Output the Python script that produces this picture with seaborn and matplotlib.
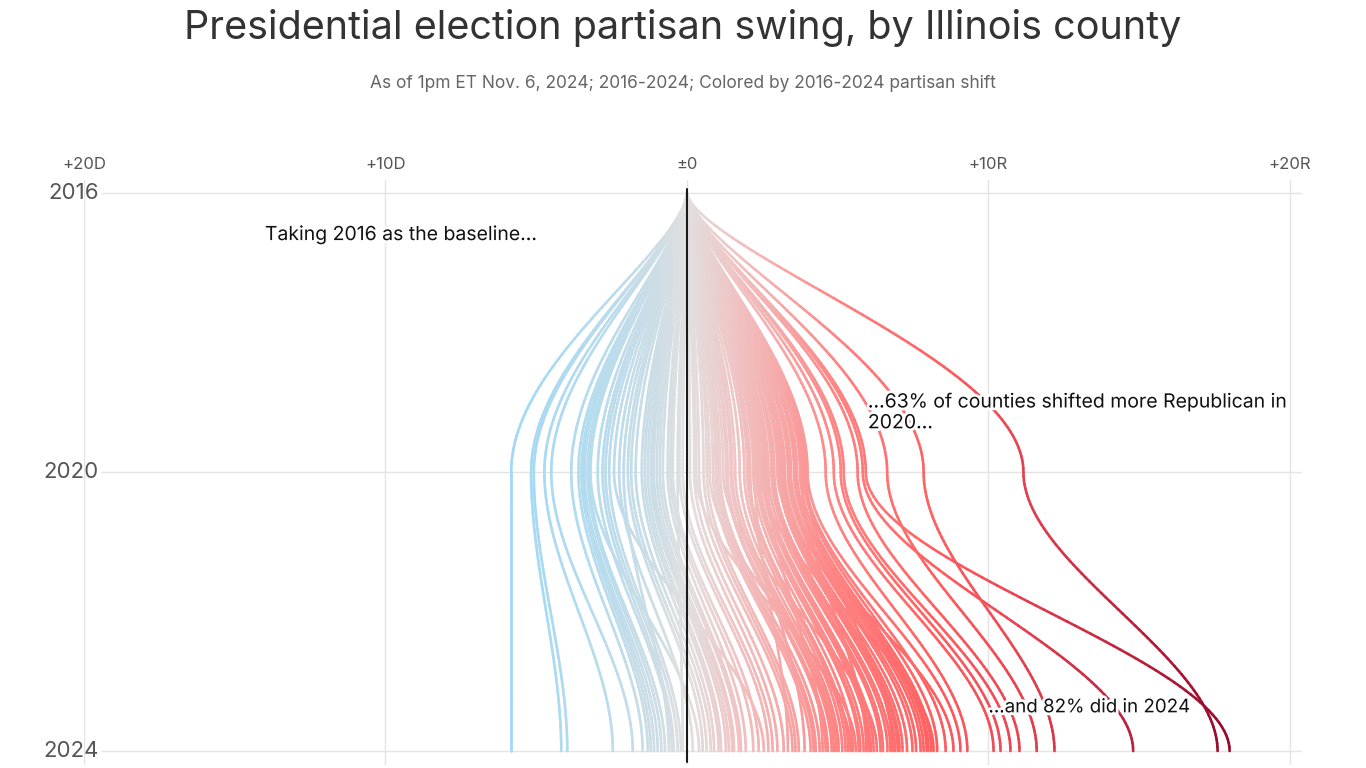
import numpy as np
import matplotlib
matplotlib.use("Agg")
import matplotlib.pyplot as plt
import matplotlib.patheffects as pe
from matplotlib.collections import LineCollection
from matplotlib.colors import Normalize
import seaborn as sns

# Data: partisan swing vs 2016 baseline, one entry per county
# (negative = shifted toward D, positive = shifted toward R)
years = [2016, 2020, 2024]
tick_values = [-20, -10, 0, 10, 20]
tick_labels = ["+20D", "+10D", "±0", "+10R", "+20R"]

swing_2020 = [
    -5.83, -5.17, -5.08, -4.73, -4.5, -3.84, -3.6, -3.5, -3.45, -3.4,
    -3.3, -3.25, -3.2, -2.96, -2.8, -2.7, -2.58, -2.42, -2.25, -2.1,
    -1.96, -1.85, -1.7, -1.5, -1.4, -1.3, -1.2, -1.15, -1.1, -1.0,
    -0.9, -0.8, -0.64, -0.55, -0.47, -0.31, -0.25, -0.14,
    0.1, 0.24, 0.3, 0.4, 0.55, 0.66, 0.75, 0.86, 0.95, 1.02,
    1.1, 1.2, 1.3, 1.35, 1.45, 1.5, 1.6, 1.75, 1.9, 2.0,
    2.05, 2.1, 2.2, 2.25, 2.3, 2.35, 2.4, 2.45, 2.5, 2.55,
    2.6, 2.65, 2.7, 2.8, 2.85, 2.9, 3.0, 3.05, 3.1, 3.15,
    3.2, 3.25, 3.35, 3.4, 3.45, 3.55, 3.6, 3.65, 3.75, 3.8,
    3.85, 3.9, 3.95, 4.0, 4.6, 4.87, 5.1, 5.2, 5.66, 5.83,
    5.93, 6.64, 7.85, 11.16,
]
swing_2024 = [
    -5.83, -4.17, -3.97, -2.46, -1.80, -1.47, -1.30, -1.2, -1.09, -0.97,
    -0.85, -0.73, 0.40, -0.5, -0.44, -0.31, -0.2, 2.55, 0.19, -0.60,
    0.52, 0.65, 0.79, 0.9, 1.05, 1.13, 1.29, 1.39, 1.5, 1.56,
    1.72, 1.79, 1.95, 2.2, 2.38, -0.14, 2.7, 2.84,
    3.0, 3.21, 5.6, 3.5, 3.6, 3.71, 5.43, 4.1, 4.2, 4.27,
    4.4, 6.3, 4.6, 4.67, 4.8, 4.87, 4.95, 5.03, 5.15, 5.26,
    5.35, 3.9, 5.5, 3.35, 5.7, 5.75, 5.86, 8.18, 6.03, 6.1,
    6.19, 4.5, 6.42, 6.5, 6.65, 6.75, 8.84, 6.9, 6.99, 7.05,
    7.15, 7.3, 7.48, 7.6, 7.75, 7.85, 7.95, 8.01, 8.1, 5.95,
    8.3, 8.58, 6.82, 9.07, 9.3, 10.17, 10.4, 10.73, 11.03, 14.8,
    18.0, 11.6, 12.19, 17.6,
]

# colour scale for the swing, from +6D to +18R
scale_stops = [-6, -3, -1, 0, 1.5, 3, 5, 8, 10, 12, 15, 18]
scale_colors = ["#9fd8f6", "#b7dcee", "#cddde5", "#e2e0e0", "#efc6c6", "#f6abab",
                "#ff8282", "#ff6262", "#f25058", "#da384b", "#b9203b", "#950a2c"]


def ease(t, k):
    t = t ** k
    return t * t * (3 - 2 * t)


# fine-grained colormap built from the stops
pos = (np.array(scale_stops) - scale_stops[0]) / (scale_stops[-1] - scale_stops[0])
grid = np.linspace(0, 1, 241)
base = np.array(sns.color_palette(scale_colors))
rgb = np.stack([np.interp(grid, pos, base[:, c]) for c in range(3)], axis=1)
cmap = sns.blend_palette([tuple(c) for c in rgb], n_colors=241, as_cmap=True)
norm = Normalize(vmin=scale_stops[0], vmax=scale_stops[-1])

# smooth county paths, coloured along their length by the running swing
t = np.linspace(0, 1, 70)
segs, seg_vals = [], []
for a, b in zip(swing_2020, swing_2024):
    x = np.concatenate([a * ease(t, 0.8), (a + (b - a) * ease(t, 1.0))[1:]])
    y = np.concatenate([years[0] + t * (years[1] - years[0]),
                        (years[1] + t * (years[2] - years[1]))[1:]])
    pts = np.column_stack([x, y])
    segs.extend(np.stack([pts[:-1], pts[1:]], axis=1))
    seg_vals.extend((x[:-1] + x[1:]) / 2)

sns.set_theme(style="white")
plt.rcParams["font.family"] = ["Inter", "DejaVu Sans"]

fig = plt.figure(figsize=(13.66, 7.68), dpi=100)
ax = fig.add_axes([84 / 1366, 3 / 768, 1218 / 1366, 585 / 768])

# grid
for v in tick_values:
    ax.axvline(v, color="#e4e4e4", lw=1, zorder=0)
ax.hlines(years, -19.45, 20.4, color="#e4e4e4", lw=1, zorder=0)

lc = LineCollection(segs, colors=cmap(norm(np.array(seg_vals))),
                    linewidths=1.9, capstyle="round", zorder=2)
ax.add_collection(lc)

ax.axvline(0, ymin=0.005, ymax=0.985, color="#1a1a1a", lw=1.5, zorder=5)

ax.set_xlim(-20, 20.4)
ax.set_ylim(2024.2, 2015.81)
ax.xaxis.tick_top()
ax.set_xticks(tick_values)
ax.set_xticklabels(tick_labels, fontsize=12, color="#555555")
ax.tick_params(axis="x", length=0, pad=6)
ax.set_yticks([])
sns.despine(ax=ax, left=True, bottom=True, top=True, right=True)

for yr in years:
    ax.text(-19.5, yr, str(yr), ha="right", va="center",
            fontsize=16, color="#555555")

halo = [pe.withStroke(linewidth=4, foreground="white")]
ax.text(-14, 2016.6, "Taking 2016 as the baseline…", fontsize=14,
        color="#111111", va="center", path_effects=halo, zorder=6)
ax.text(6.0, 2019.15, "…63% of counties shifted more Republican in\n2020…",
        fontsize=14, color="#111111", va="center", linespacing=1.2,
        path_effects=halo, zorder=6)
ax.text(10.0, 2023.38, "…and 82% did in 2024", fontsize=13.5,
        color="#111111", va="center", path_effects=halo, zorder=6)

fig.text(0.5, 1 - 28 / 768, "Presidential election partisan swing, by Illinois county",
         ha="center", va="center", fontsize=28.5, color="#333333")
fig.text(0.5, 1 - 84 / 768,
         "As of 1pm ET Nov. 6, 2024; 2016-2024; Colored by 2016-2024 partisan shift",
         ha="center", va="center", fontsize=12.5, color="#666666")

fig.savefig("out.png", dpi=100)
